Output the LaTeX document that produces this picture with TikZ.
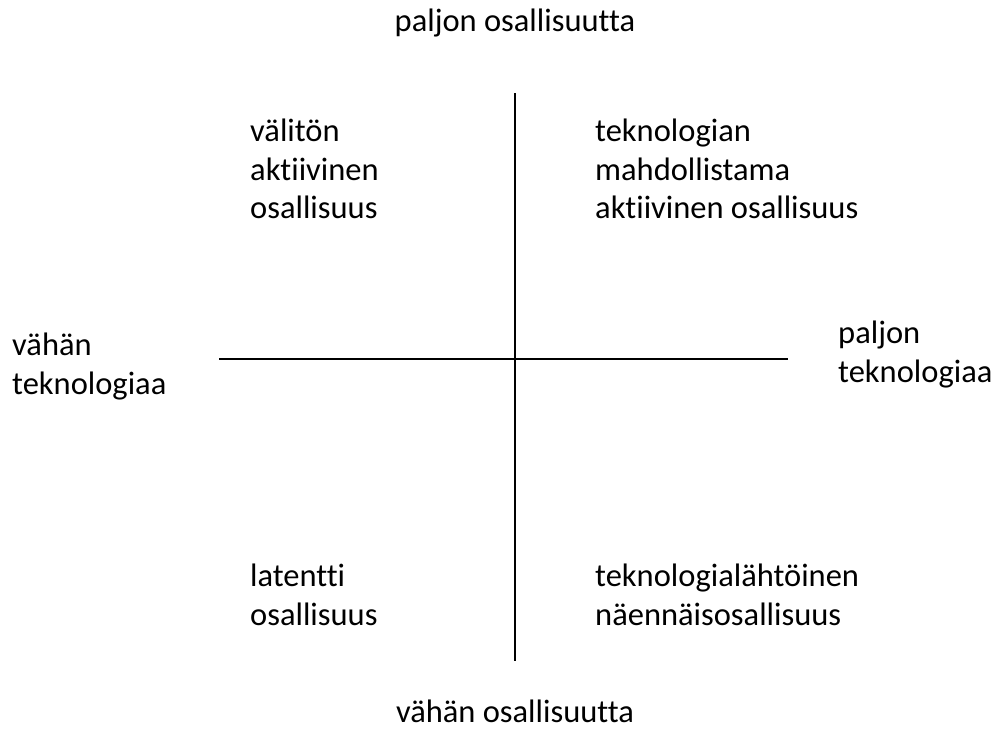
\documentclass[tikz,border=0pt]{standalone}
\usepackage{fontspec}
\setmainfont{Carlito}[Ligatures=NoCommon]
\begin{document}
\begin{tikzpicture}[x=1pt,y=-1pt,
  lbl/.style={inner sep=0pt, align=left, font=\fontsize{32.5}{38.5}\selectfont},
  axis/.style={line width=1.6pt, black}]
\useasboundingbox (0,0) rectangle (1004,744);
\coordinate (vt) at (515,93);
\coordinate (vb) at (515,661);
\coordinate (hl) at (219,359);
\coordinate (hr) at (788,359);
\draw[axis] (vt) -- (vb);
\draw[axis] (hl) -- (hr);
\node[lbl, anchor=base] (top) at (515,31) {paljon osallisuutta};
\node[lbl, anchor=base] (bot) at (515,722) {vähän osallisuutta};
\node[lbl, anchor=north west] (q1) at (250,119) {välitön\\aktiivinen\\osallisuus};
\node[lbl, anchor=north west] (q2) at (595,119) {teknologian\\mahdollistama\\aktiivinen osallisuus};
\node[lbl, anchor=north west] (q3) at (250,564) {latentti\\osallisuus};
\node[lbl, anchor=north west] (q4) at (595,564) {teknologialähtöinen\\näennäisosallisuus};
\node[lbl, anchor=north west] (lft) at (12,333) {vähän\\teknologiaa};
\node[lbl, anchor=north west] (rgt) at (838,321) {paljon\\teknologiaa};
\end{tikzpicture}
\end{document}
